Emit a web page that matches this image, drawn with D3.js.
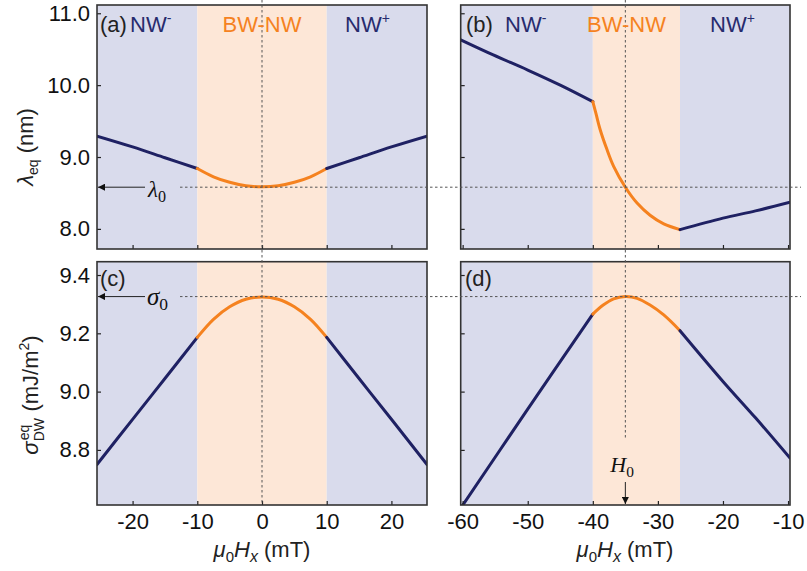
<!DOCTYPE html>
<html><head><meta charset="utf-8">
<script src="https://cdn.jsdelivr.net/npm/d3@7"></script>
<style>body{margin:0;background:#fff} svg{display:block}</style>
</head><body><svg id="c" width="807" height="571"></svg>
<script>
// ---------- data ----------
const lamTicks = [8.0, 9.0, 10.0, 11.0];
const sigTicks = [8.8, 9.0, 9.2, 9.4];
const hxTicksA = [-20, -10, 0, 10, 20];
const hxTicksB = [-60, -50, -40, -30, -20, -10];
const bwRangeA = [-10, 10];
const bwRangeB = [-40, -26.6];
const lambda0 = 8.58;
const sigma0 = 9.326;
const H0 = -35;

// panel (a): lambda_eq vs Hx
const aNWm_x = [-25.5, -20, -15, -10];
const aNWm_y = [9.29, 9.14, 8.99, 8.84];
const aBW_x = [-10, -7.5, -5, -2.5, 0, 2.5, 5, 7.5, 10];
const aBW_y = [8.84, 8.725, 8.648, 8.60, 8.585, 8.60, 8.648, 8.725, 8.84];
const aNWp_x = [10, 15, 20, 25.5];
const aNWp_y = [8.84, 8.99, 9.14, 9.29];
// panel (b)
const bNWm_x = [-60.3, -55.3, -50, -45, -40];
const bNWm_y = [10.63, 10.42, 10.21, 10.0, 9.77];
const bBW_x = [-40, -39.5, -38.9, -37.85, -36.8, -35, -33.2, -31.2, -29.1, -26.6];
const bBW_y = [9.77, 9.60, 9.39, 9.11, 8.87, 8.58, 8.36, 8.19, 8.07, 7.99];
const bNWp_x = [-26.6, -20, -15, -9.7];
const bNWp_y = [7.99, 8.15, 8.25, 8.37];
// panel (c): sigma_DW vs Hx
const cNWm_x = [-25.5, -20, -15, -10];
const cNWm_y = [8.75, 8.905, 9.045, 9.186];
const cBW_x = [-10, -7.5, -5, -2.5, 0, 2.5, 5, 7.5, 10];
const cBW_y = [9.186, 9.248, 9.291, 9.317, 9.325, 9.317, 9.291, 9.248, 9.186];
const cNWp_x = [10, 15, 20, 25.5];
const cNWp_y = [9.186, 9.045, 8.905, 8.75];
// panel (d)
const dNWm_x = [-60.3, -50, -40];
const dNWm_y = [8.60, 8.94, 9.266];
const dBW_x = [-40, -38.4, -36.8, -35, -33.2, -31.2, -29.1, -26.6];
const dBW_y = [9.266, 9.297, 9.318, 9.326, 9.320, 9.297, 9.263, 9.209];
const dNWp_x = [-26.6, -20, -15, -9.7];
const dNWp_y = [9.209, 9.035, 8.91, 8.772];

// ---------- layout ----------
const NAVY = "#1f2163", ORANGE = "#f5821f";
const BLUE_BG = "#d9dbec", ORANGE_BG = "#fde7d7";
const SANS = "'Liberation Sans', Arial, sans-serif";
const SERIF = "'Liberation Serif', 'Times New Roman', serif";

const svg = d3.select("#c");
svg.append("rect").attr("width", 807).attr("height", 571).attr("fill", "#fff");

const xA = d3.scaleLinear([-25.5, 25.5], [97, 427]);
const xB = d3.scaleLinear([-60.3, -9.7], [460.7, 790]);
const yTop = d3.scaleLinear([7.72, 11.115], [249, 5]);
const yBot = d3.scaleLinear([8.611, 9.4457], [505, 261.7]);

const zip = (xs, ys) => xs.map((x, i) => [x, ys[i]]);

function panel(id, x, y, bw, segs, xTicks, yTicks, showX, showY, yFmt) {
  const [x0, x1] = x.range(), [y1, y0] = y.range();
  const g = svg.append("g");
  g.append("clipPath").attr("id", "clip" + id).append("rect")
    .attr("x", x0).attr("y", y0).attr("width", x1 - x0).attr("height", y1 - y0);
  g.append("rect").attr("x", x0).attr("y", y0).attr("width", x(bw[0]) - x0).attr("height", y1 - y0).attr("fill", BLUE_BG);
  g.append("rect").attr("x", x(bw[0])).attr("y", y0).attr("width", x(bw[1]) - x(bw[0])).attr("height", y1 - y0).attr("fill", ORANGE_BG);
  g.append("rect").attr("x", x(bw[1])).attr("y", y0).attr("width", x1 - x(bw[1])).attr("height", y1 - y0).attr("fill", BLUE_BG);
  const line = d3.line().x(p => x(p[0])).y(p => y(p[1])).curve(d3.curveCatmullRom.alpha(0.5));
  const lg = g.append("g").attr("clip-path", `url(#clip${id})`);
  segs.forEach(s => {
    lg.append("path").attr("d", line(zip(s.x, s.y))).attr("fill", "none")
      .attr("stroke", s.c).attr("stroke-width", 3).attr("stroke-linecap", "round");
  });
  const ax = d3.axisBottom(x).tickValues(xTicks).tickSize(-4).tickPadding(8)
    .tickFormat(showX ? (v => String(v)) : () => "");
  const axg = g.append("g").attr("transform", `translate(0,${y1})`).call(ax);
  const ay = d3.axisLeft(y).tickValues(yTicks).tickSize(-4).tickPadding(7)
    .tickFormat(showY ? d3.format(yFmt) : () => "");
  const ayg = g.append("g").attr("transform", `translate(${x0},0)`).call(ay);
  [axg, ayg].forEach(a => {
    a.select(".domain").remove();
    a.selectAll("line").attr("stroke", "#222").attr("stroke-width", 1.2);
    a.selectAll("text").attr("fill", "#111").style("font-family", SANS).style("font-size", "22px");
  });
  g.append("rect").attr("x", x0).attr("y", y0).attr("width", x1 - x0).attr("height", y1 - y0)
    .attr("fill", "none").attr("stroke", "#333").attr("stroke-width", 1.6);
  return g;
}

panel("a", xA, yTop, bwRangeA, [
  { x: aNWm_x, y: aNWm_y, c: NAVY }, { x: aBW_x, y: aBW_y, c: ORANGE }, { x: aNWp_x, y: aNWp_y, c: NAVY }
], hxTicksA, lamTicks, false, true, ".1f");
panel("b", xB, yTop, bwRangeB, [
  { x: bNWm_x, y: bNWm_y, c: NAVY }, { x: bBW_x, y: bBW_y, c: ORANGE }, { x: bNWp_x, y: bNWp_y, c: NAVY }
], hxTicksB, lamTicks, false, false, ".1f");
panel("c", xA, yBot, bwRangeA, [
  { x: cNWm_x, y: cNWm_y, c: NAVY }, { x: cBW_x, y: cBW_y, c: ORANGE }, { x: cNWp_x, y: cNWp_y, c: NAVY }
], hxTicksA, sigTicks, true, true, ".1f");
panel("d", xB, yBot, bwRangeB, [
  { x: dNWm_x, y: dNWm_y, c: NAVY }, { x: dBW_x, y: dBW_y, c: ORANGE }, { x: dNWp_x, y: dNWp_y, c: NAVY }
], hxTicksB, sigTicks, true, false, ".1f");

// ---------- dashed guide lines ----------
const dash = (x1, y1, x2, y2) => svg.append("line").attr("x1", x1).attr("y1", y1).attr("x2", x2).attr("y2", y2)
  .attr("stroke", "#555").attr("stroke-width", 1).attr("stroke-dasharray", "2.5,2.5");
dash(180, yTop(lambda0), 801, yTop(lambda0));
dash(180, yBot(sigma0), 801, yBot(sigma0));
dash(xA(0), 0, xA(0), 505);
dash(xB(H0), 0, xB(H0), 440);

// ---------- arrows ----------
svg.append("defs").append("marker").attr("id", "ah").attr("viewBox", "0 0 10 10")
  .attr("refX", 10).attr("refY", 5).attr("markerWidth", 9).attr("markerHeight", 7)
  .attr("markerUnits", "userSpaceOnUse").attr("orient", "auto")
  .append("path").attr("d", "M0,0L10,5L0,10Z").attr("fill", "#111");
const arrow = (x1, y1, x2, y2) => svg.append("line").attr("x1", x1).attr("y1", y1).attr("x2", x2).attr("y2", y2)
  .attr("stroke", "#222").attr("stroke-width", 1).attr("marker-end", "url(#ah)");
arrow(145, yTop(lambda0), 98, yTop(lambda0));
arrow(145, yBot(sigma0), 98, yBot(sigma0));
arrow(xB(H0), 482, xB(H0), 504);

// ---------- text ----------
function mathLabel(x, y, sym, sub, size) {
  const t = svg.append("text").attr("x", x).attr("y", y).style("font-family", SERIF).style("font-size", size + "px").attr("fill", "#111");
  t.append("tspan").text(sym).style("font-style", "italic");
  t.append("tspan").text(sub).attr("dy", 5).style("font-size", (size * 0.7) + "px");
  return t;
}
mathLabel(148, 197, "λ", "0", 23);
mathLabel(147, 305, "σ", "0", 25);
mathLabel(xB(H0) - 15, 472, "H", "0", 22).attr("text-anchor", "start");

function regionLabels(xStartNWm, plabel, xpl, bwCenter, xNWp, baseline) {
  svg.append("text").attr("x", xpl).attr("y", baseline).text(plabel)
    .style("font-family", SANS).style("font-size", "22px").attr("fill", "#222");
  const m = svg.append("text").attr("x", xStartNWm).attr("y", baseline).style("font-family", SANS).style("font-size", "22px").attr("fill", "#272b6e");
  m.append("tspan").text("NW");
  m.append("tspan").text("-").attr("dy", -9).style("font-size", "14px");
  svg.append("text").attr("x", bwCenter).attr("y", baseline).attr("text-anchor", "middle").text("BW-NW")
    .style("font-family", SANS).style("font-size", "22px").attr("fill", ORANGE);
  const p = svg.append("text").attr("x", xNWp).attr("y", baseline).style("font-family", SANS).style("font-size", "22px").attr("fill", "#272b6e");
  p.append("tspan").text("NW");
  p.append("tspan").text("+").attr("dy", -9).style("font-size", "14px");
}
regionLabels(130, "(a)", 100, xA(0), 345, 32);
regionLabels(505, "(b)", 466, 626.5, 710, 32);
svg.append("text").attr("x", 100).attr("y", 286).text("(c)").style("font-family", SANS).style("font-size", "22px").attr("fill", "#222");
svg.append("text").attr("x", 465).attr("y", 286).text("(d)").style("font-family", SANS).style("font-size", "22px").attr("fill", "#222");

// x axis titles
function xTitle(cx) {
  const t = svg.append("text").attr("x", cx).attr("y", 557).attr("text-anchor", "middle")
    .style("font-family", SANS).style("font-size", "22px").attr("fill", "#222");
  t.append("tspan").text("μ").style("font-style", "italic");
  t.append("tspan").text("0").attr("dy", 5).style("font-size", "15px");
  t.append("tspan").text("H").attr("dy", -5).style("font-style", "italic");
  t.append("tspan").text("x").attr("dy", 5).style("font-size", "16px").style("font-style", "italic");
  t.append("tspan").text(" (mT)").attr("dy", -5);
}
xTitle(xA(0));
xTitle(625);

// y axis titles
{
  const t = svg.append("text").attr("transform", "translate(33,147) rotate(-90)").attr("text-anchor", "middle")
    .style("font-family", SANS).style("font-size", "22px").attr("fill", "#222");
  t.append("tspan").text("λ").style("font-style", "italic");
  t.append("tspan").text("eq").attr("dy", 5).style("font-size", "14px");
  t.append("tspan").text(" (nm)").attr("dy", -5);
}
{
  const t = svg.append("text").attr("transform", "translate(38,395) rotate(-90)").attr("text-anchor", "middle")
    .style("font-family", SANS).style("font-size", "22px").attr("fill", "#222");
  t.append("tspan").text("σ").style("font-style", "italic");
  t.append("tspan").text("DW").attr("dy", 6).style("font-size", "14px");
  t.append("tspan").text("eq").attr("dx", -22).attr("dy", -15).style("font-size", "14px");
  t.append("tspan").text(" (mJ/m").attr("dx", 7).attr("dy", 9);
  t.append("tspan").text("2").attr("dy", -9).style("font-size", "14px");
  t.append("tspan").text(")").attr("dy", 9);
}
</script></body></html>
